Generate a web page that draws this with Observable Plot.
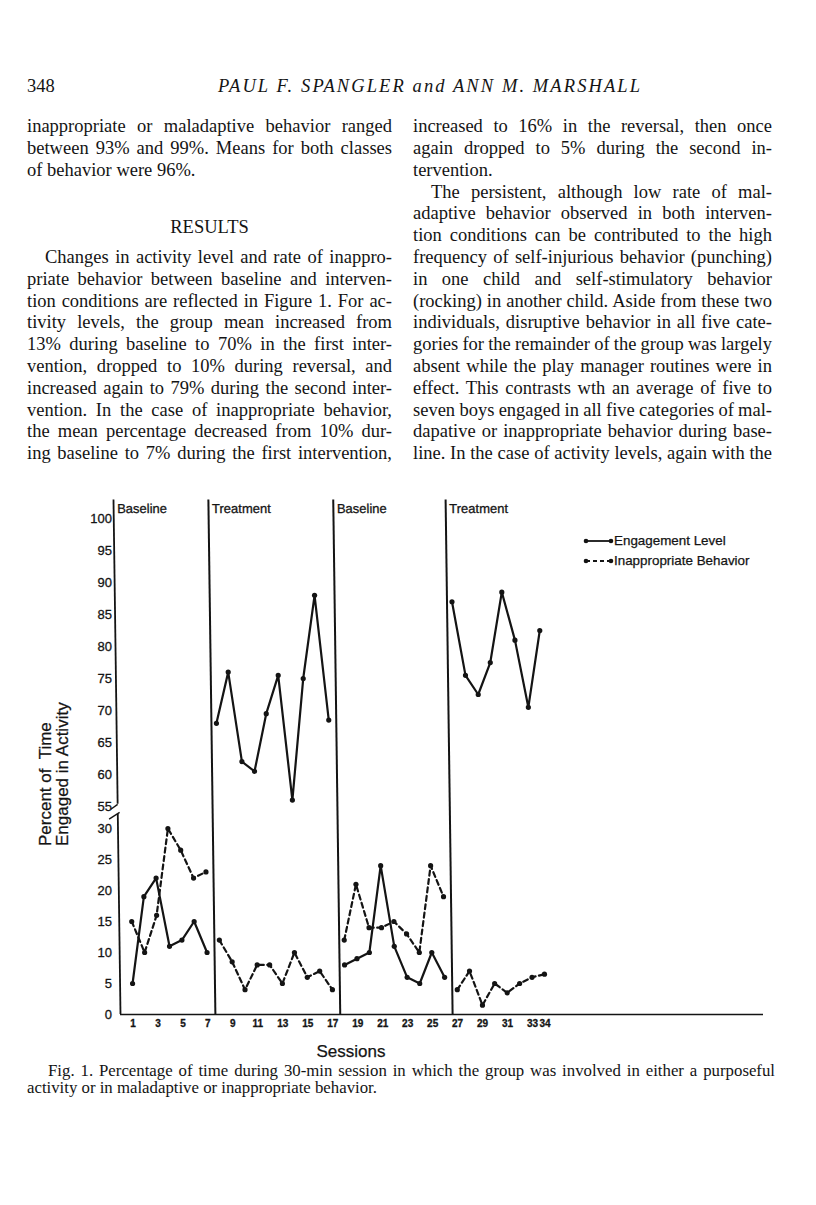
<!DOCTYPE html>
<html>
<head>
<meta charset="utf-8">
<script src="https://cdn.jsdelivr.net/npm/d3@7"></script>
<script src="https://cdn.jsdelivr.net/npm/@observablehq/plot@0.6"></script>
<style>
  body { margin: 0; background: #fff; }
  #page { position: relative; width: 816px; height: 1205px; overflow: hidden; background: #fff; color: #141414; }
  .t { position: absolute; white-space: nowrap; line-height: 1; }
  .serif { font-family: "Liberation Serif", "Times New Roman", serif; }
  .sans { font-family: "Liberation Sans", Arial, Helvetica, sans-serif; -webkit-text-stroke: 0.25px #141414; }
  svg text { stroke: #141414; stroke-width: 0.3px; }
</style>
</head>
<body>
<div id="page"></div>
<script>
// ---------------- DATA ----------------
const sessions = d3.range(1, 35);
const engagement = [5, 19, 22, 11, 12, 15, 10,
  68, 76, 62, 60.5, 69.5, 75.5, 56, 75, 88, 68.5,
  8, 9, 10, 24, 11, 6, 5, 10, 6,
  87, 75.5, 72.5, 77.5, 88.5, 81, 70.5, 82.5];
const inappropriate = [15, 10, 16, 30, 26.5, 22, 23,
  12, 8.5, 4, 8, 8, 5, 10, 6, 7, 4,
  12, 21, 14, 14, 15, 13, 10, 24, 19,
  4, 7, 1.5, 5, 3.5, 5, 6, 6.5];
const phaseNames = ["Baseline", "Treatment", "Baseline", "Treatment"];
const phaseLastSession = [7, 17, 26, 34];
const phaseStarts = [0, 7.6, 17.6, 26.6];
const yTicksLow = [0, 5, 10, 15, 20, 25, 30];
const yTicksHigh = [55, 60, 65, 70, 75, 80, 85, 90, 95, 100];
const xTicks = [1, 3, 5, 7, 9, 11, 13, 15, 17, 19, 21, 23, 25, 27, 29, 31, 33, 34];
const seriesNames = ["Engagement Level", "Inappropriate Behavior"];

// ---------------- TEXT ----------------
const headerPage = "348";
const headerAuthors = "PAUL F. SPANGLER and ANN M. MARSHALL";
const leftTop = [
  "inappropriate or maladaptive behavior ranged",
  "between 93% and 99%. Means for both classes",
  "of behavior were 96%."
];
const heading = "RESULTS";
const leftBody = [
  "Changes in activity level and rate of inappro-",
  "priate behavior between baseline and interven-",
  "tion conditions are reflected in Figure 1. For ac-",
  "tivity levels, the group mean increased from",
  "13% during baseline to 70% in the first inter-",
  "vention, dropped to 10% during reversal, and",
  "increased again to 79% during the second inter-",
  "vention. In the case of inappropriate behavior,",
  "the mean percentage decreased from 10% dur-",
  "ing baseline to 7% during the first intervention,"
];
const rightCol = [
  "increased to 16% in the reversal, then once",
  "again dropped to 5% during the second in-",
  "tervention.",
  "The persistent, although low rate of mal-",
  "adaptive behavior observed in both interven-",
  "tion conditions can be contributed to the high",
  "frequency of self-injurious behavior (punching)",
  "in one child and self-stimulatory behavior",
  "(rocking) in another child. Aside from these two",
  "individuals, disruptive behavior in all five cate-",
  "gories for the remainder of the group was largely",
  "absent while the play manager routines were in",
  "effect. This contrasts wth an average of five to",
  "seven boys engaged in all five categories of mal-",
  "dapative or inappropriate behavior during base-",
  "line. In the case of activity levels, again with the"
];
const caption = [
  "Fig. 1. Percentage of time during 30-min session in which the group was involved in either a purposeful",
  "activity or in maladaptive or inappropriate behavior."
];
const yLabel = ["Percent of  Time", "Engaged in Activity"];
const xLabel = "Sessions";

// ---------------- TEXT LAYOUT ----------------
const page = document.getElementById("page");
const SERIF_X = 0.61, SERIF_CAP = 0.51, SANS_CAP = 0.49;
function place(text, {x, yc, size, cls = "serif", frac = SERIF_X, width = null, mode = null, style = {}}) {
  const d = document.createElement("div");
  d.className = "t " + cls;
  d.textContent = text;
  d.style.fontSize = size + "px";
  Object.assign(d.style, style);
  d.style.left = x + "px";
  d.style.top = (yc - frac * size) + "px";
  page.appendChild(d);
  if (width != null && mode) {
    const nat = d.getBoundingClientRect().width;
    if (mode === "justify") {
      const n = (text.match(/ /g) || []).length;
      if (n) d.style.wordSpacing = ((width - nat) / n) + "px";
    } else if (mode === "letter") {
      d.style.letterSpacing = ((width - nat) / (text.length - 1)) + "px";
    } else if (mode === "center") {
      d.style.left = (x + (width - nat) / 2) + "px";
    }
  }
  return d;
}
const BODY = 18.5, LH = 21.8;
const LX = 27, LW = 365, RX = 413, RW = 359, INDENT = 18;

place(headerPage, {x: LX, yc: 86, size: BODY, frac: SERIF_CAP});
place(headerAuthors, {x: 218, yc: 86, size: BODY, frac: SERIF_CAP, width: 422, mode: "letter", style: {fontStyle: "italic"}});

leftTop.forEach((t, i) => place(t, {x: LX, yc: 128.5 + i * LH, size: BODY, width: LW, mode: i < leftTop.length - 1 ? "justify" : null}));
place(heading, {x: LX, yc: 227, size: BODY, frac: SERIF_CAP, width: LW, mode: "center"});
leftBody.forEach((t, i) => {
  const ind = i === 0 ? INDENT : 0;
  place(t, {x: LX + ind, yc: 128.5 + (i + 6) * LH, size: BODY, width: LW - ind, mode: "justify"});
});
rightCol.forEach((t, i) => {
  const ind = i === 3 ? INDENT : 0;
  place(t, {x: RX + ind, yc: 128.5 + i * LH, size: BODY, width: RW - ind, mode: i === 2 ? null : "justify"});
});
place(caption[0], {x: 48, yc: 1073, size: 16.8, width: 727, mode: "justify"});
place(caption[1], {x: LX, yc: 1090.5, size: 16.8});

place(xLabel, {x: 251, yc: 1051, size: 17, cls: "sans", frac: SANS_CAP, width: 200, mode: "center"});

// y label (rotated)
const yl = document.createElement("div");
yl.className = "sans";
Object.assign(yl.style, {position: "absolute", left: "36.5px", top: "846px", transformOrigin: "0 0",
  transform: "rotate(-90deg)", whiteSpace: "pre", lineHeight: "17px", fontSize: "17px"});
yl.textContent = yLabel.join("\n");
page.appendChild(yl);

// legend
seriesNames.forEach((name, i) => {
  const yc = 541 + i * 19.5;
  const ns = "http://www.w3.org/2000/svg";
  const s = document.createElementNS(ns, "svg");
  s.setAttribute("width", 32); s.setAttribute("height", 10);
  Object.assign(s.style, {position: "absolute", left: "582px", top: (yc - 5) + "px"});
  const ln = document.createElementNS(ns, "line");
  ln.setAttribute("x1", 4); ln.setAttribute("x2", 29); ln.setAttribute("y1", 5); ln.setAttribute("y2", 5);
  ln.setAttribute("stroke", "#141414"); ln.setAttribute("stroke-width", 1.8);
  if (i === 1) ln.setAttribute("stroke-dasharray", "4,3");
  s.appendChild(ln);
  [4, 29].forEach(cx => {
    const c = document.createElementNS(ns, "circle");
    c.setAttribute("cx", cx); c.setAttribute("cy", 5); c.setAttribute("r", 2.3); c.setAttribute("fill", "#141414");
    s.appendChild(c);
  });
  page.appendChild(s);
  place(name, {x: 614, yc, size: 13.4, cls: "sans", frac: SANS_CAP});
});

// ---------------- CHART ----------------
const TOP = 83;
const yT = v => v <= 30 ? v : 30 + 3.55 + (v - 55) * 1.032;
const rows = sessions.map((s, i) => ({
  s,
  phase: phaseLastSession.findIndex(e => s <= e),
  eng: yT(engagement[i]),
  inap: yT(inappropriate[i])
}));
const tickVals = [...yTicksLow, ...yTicksHigh];
const tickLabel = new Map(tickVals.map(v => [yT(v), String(v)]));
const axisSegments = [{y1: 0, y2: 32.3}, {y1: 33.9, y2: TOP}];
const breakTicks = [{x1: 0, y1: 33.9, x2: -0.55, y2: 33.1}, {x1: -0.7, y1: 31.5, x2: 0.15, y2: 32.6}];

const H = 590, MB = 46, MT = 29.4;
const chart = Plot.plot({
  width: 816, height: H,
  marginLeft: 120, marginRight: 53, marginTop: MT, marginBottom: MB,
  x: {domain: [0, 51.5]},
  y: {domain: [0, TOP]},
  style: {fontFamily: "'Liberation Sans', Arial, sans-serif", color: "#141414", background: "transparent", overflow: "visible"},
  marks: [
    Plot.ruleY([0], {x1: 0, x2: 51.5, stroke: "#141414", strokeWidth: 1.5}),
    Plot.ruleX(axisSegments, {x: 0, y1: "y1", y2: "y2", stroke: "#141414", strokeWidth: 1.8}),
    Plot.link(breakTicks, {x1: "x1", y1: "y1", x2: "x2", y2: "y2", stroke: "#141414", strokeWidth: 1.4}),
    Plot.ruleX(phaseStarts.slice(1), {y1: 0, y2: TOP, stroke: "#141414", strokeWidth: 2}),
    Plot.line(rows, {x: "s", y: "eng", z: "phase", stroke: "#141414", strokeWidth: 2.2}),
    Plot.line(rows, {x: "s", y: "inap", z: "phase", stroke: "#141414", strokeWidth: 2.2, strokeDasharray: "5,3.5"}),
    Plot.dot(rows, {x: "s", y: "eng", r: 2.6, fill: "#141414"}),
    Plot.dot(rows, {x: "s", y: "inap", r: 2.6, fill: "#141414"}),
    Plot.text(phaseNames, {x: (d, i) => phaseStarts[i], y: TOP, text: d => d, dx: 3.5, dy: 9, textAnchor: "start", fontSize: 13, fill: "#141414"}),
    Plot.axisY(tickVals.map(yT), {tickSize: 0, tickPadding: 8.5, fontSize: 13, tickFormat: d => tickLabel.get(d) ?? ""}),
    Plot.axisX(xTicks, {tickSize: 0, tickPadding: 5, fontSize: 10, fontWeight: "bold", label: null})
  ]
});
Object.assign(chart.style, {position: "absolute", left: "0px", top: "470px"});
page.appendChild(chart);

// the hand-drawn figure leans slightly: shear the drawn marks (not the tick labels)
const k = 7 / 514, yb = H - MB;
const shear = document.createElementNS("http://www.w3.org/2000/svg", "g");
shear.setAttribute("transform", `matrix(1,0,${k},1,${-k * yb},0)`);
const toMove = [...chart.children].filter(el => ["rule", "link", "line", "dot", "text"].includes(el.getAttribute("aria-label")));
chart.appendChild(shear);
toMove.forEach(el => shear.appendChild(el));
</script>
</body>
</html>
